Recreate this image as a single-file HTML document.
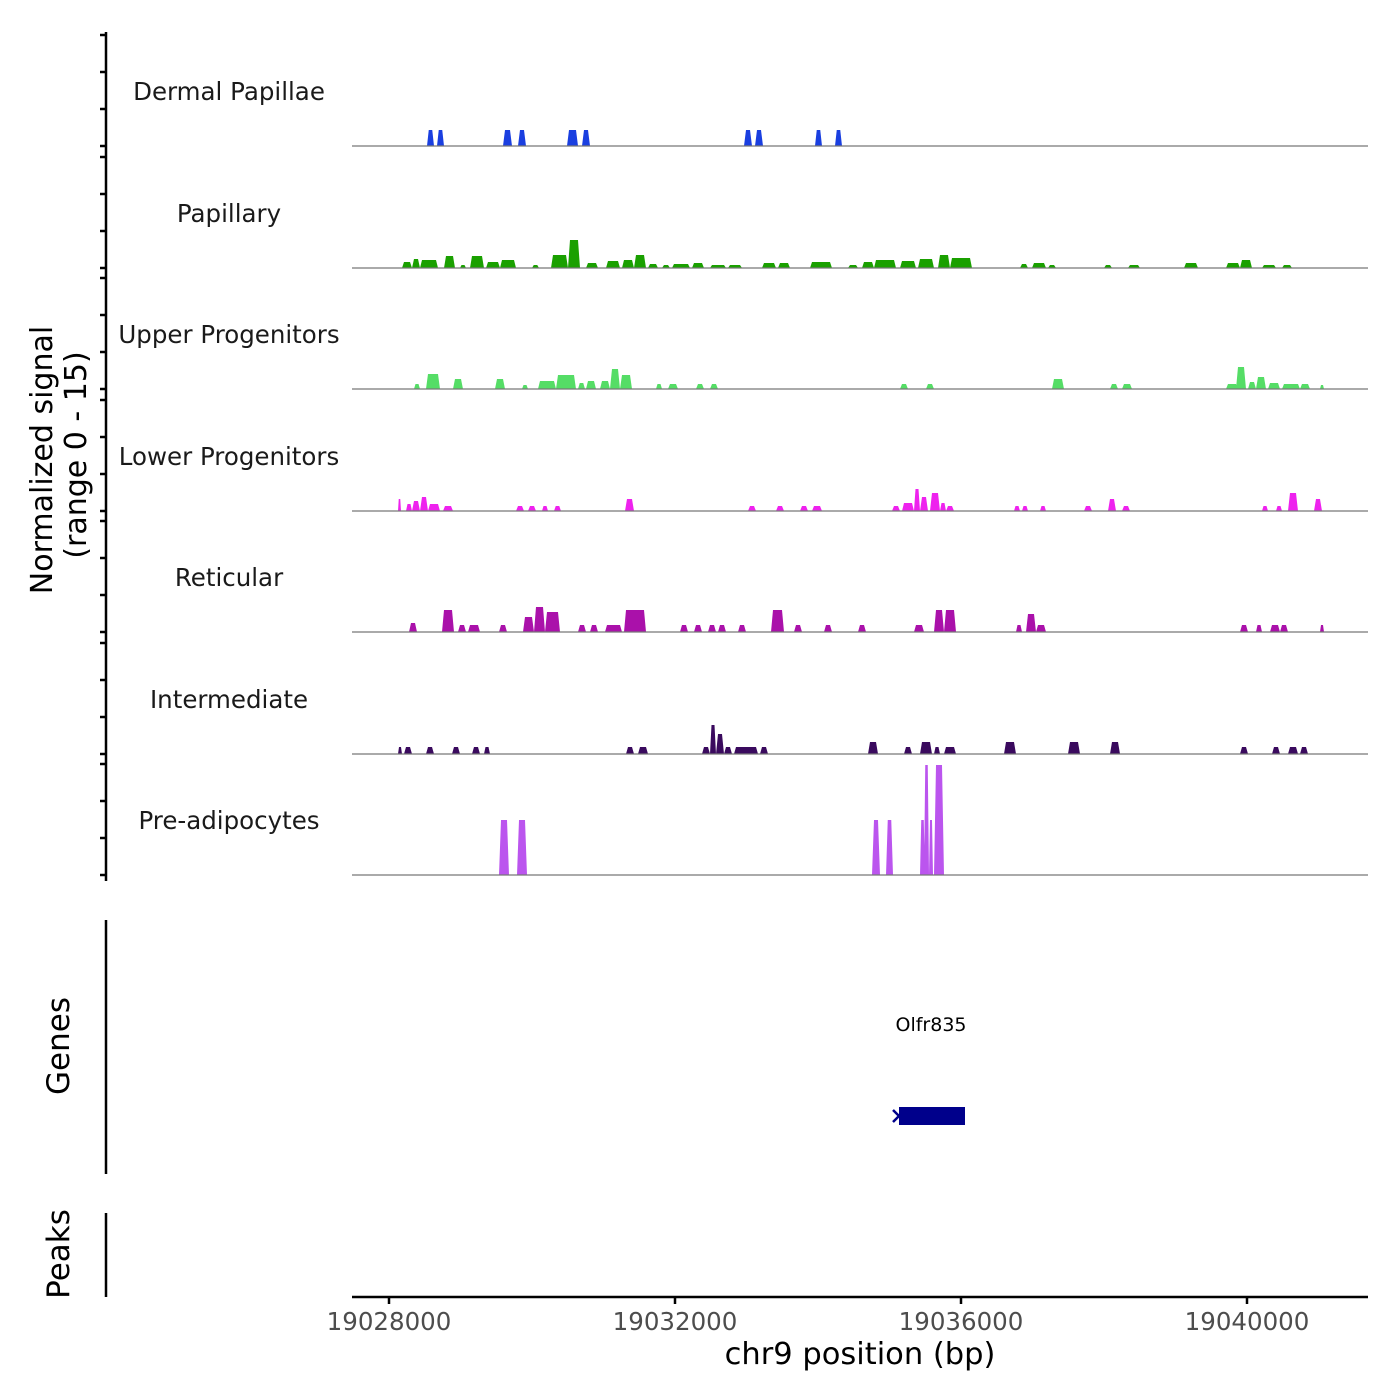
<!DOCTYPE html>
<html><head><style>
body{margin:0;background:#fff;}
svg{display:block;font-family:"DejaVu Sans","Liberation Sans",sans-serif;}
</style></head><body>
<svg id="s" width="1400" height="1400" viewBox="0 0 1400 1400" xmlns="http://www.w3.org/2000/svg">
<rect width="1400" height="1400" fill="#fff"/>
<g id="tracks"></g>
<g id="ticks" stroke="#000" stroke-width="2.5"></g>
<line x1="106" y1="32" x2="106" y2="881" stroke="#000" stroke-width="2.5"/>
<line x1="106" y1="920" x2="106" y2="1174" stroke="#000" stroke-width="2.5"/>
<line x1="106" y1="1213" x2="106" y2="1297" stroke="#000" stroke-width="2.5"/>
<text transform="translate(52,460) rotate(-90)" text-anchor="middle" font-size="30">Normalized signal</text>
<text transform="translate(86,455) rotate(-90)" text-anchor="middle" font-size="30">(range 0 - 15)</text>
<text transform="translate(69,1046) rotate(-90)" text-anchor="middle" font-size="31">Genes</text>
<text transform="translate(69,1254) rotate(-90)" text-anchor="middle" font-size="31">Peaks</text>
<g font-size="24.5" fill="#1a1a1a" text-anchor="middle">
<text x="229" y="100">Dermal Papillae</text>
<text x="229" y="222">Papillary</text>
<text x="229" y="343">Upper Progenitors</text>
<text x="229" y="465">Lower Progenitors</text>
<text x="229" y="586">Reticular</text>
<text x="229" y="708">Intermediate</text>
<text x="229" y="829">Pre-adipocytes</text>
</g>
<text x="931" y="1031" font-size="19" text-anchor="middle">Olfr835</text>
<rect x="899" y="1107" width="66" height="18" fill="#00008b"/>
<path d="M893 1110 L899 1116 L893 1122" stroke="#00008b" stroke-width="2.5" fill="none"/>
<line x1="352" y1="1297" x2="1368" y2="1297" stroke="#000" stroke-width="2.5"/>
<g stroke="#000" stroke-width="2.5">
<line x1="389" y1="1297" x2="389" y2="1304"/><line x1="675" y1="1297" x2="675" y2="1304"/>
<line x1="961" y1="1297" x2="961" y2="1304"/><line x1="1247" y1="1297" x2="1247" y2="1304"/>
</g>
<g font-size="24.5" fill="#4d4d4d" text-anchor="middle">
<text x="389" y="1330">19028000</text><text x="675" y="1330">19032000</text>
<text x="961" y="1330">19036000</text><text x="1247" y="1330">19040000</text>
</g>
<text x="860" y="1364" font-size="30.5" text-anchor="middle">chr9 position (bp)</text>
</svg>
<script>
var ns="http://www.w3.org/2000/svg";
var T=document.getElementById("tracks"),K=document.getElementById("ticks");
var base=[146,268,389,511,632,754,875];
var cols=["#1a3fe0","#1aa000","#55dd66","#ee22ee","#aa11aa","#3a0a5e","#bb55ee"];
var data=[
[[427,434,16],[437,444,16],[503,512,16],[518,526,16],[567,578,16],[582,590,16],[744,752,16],[755,763,16],[815,822,16],[835,842,16]],
[[402,412,6],[412,420,9],[420,438,8],[444,455,12],[460,466,3],[470,484,12],[486,500,6],[500,516,8],[532,539,3],[551,568,13],[568,580,28],[586,598,5],[606,620,7],[622,634,8],[634,646,13],[648,658,4],[662,670,3],[672,690,4],[692,704,5],[710,726,3],[728,742,3],[762,776,5],[778,790,5],[810,832,6],[848,858,3],[862,874,6],[874,896,8],[900,916,7],[918,934,9],[938,950,13],[950,972,10],[1020,1028,4],[1032,1046,5],[1048,1056,3],[1104,1112,3],[1128,1140,3],[1184,1198,5],[1226,1240,5],[1240,1252,8],[1262,1276,3],[1282,1292,3]],
[[414,420,5],[426,440,15],[453,463,10],[495,505,10],[522,528,4],[538,556,8],[556,576,14],[578,585,6],[586,596,8],[600,610,8],[610,620,20],[620,632,14],[656,662,5],[668,678,5],[696,704,5],[710,718,5],[900,908,5],[926,934,5],[1052,1064,10],[1110,1118,5],[1122,1132,5],[1226,1238,5],[1236,1246,22],[1248,1256,7],[1256,1266,12],[1268,1280,6],[1282,1300,5],[1300,1310,5],[1320,1324,4]],
[[398,401,12],[406,412,7],[412,420,10],[420,428,14],[428,440,7],[443,453,5],[516,524,5],[528,536,5],[542,548,5],[554,561,5],[625,634,12],[748,756,5],[776,784,5],[800,808,5],[812,822,5],[892,900,5],[902,914,8],[914,920,22],[920,928,14],[930,940,18],[940,946,8],[946,954,5],[1014,1020,5],[1022,1028,5],[1040,1046,5],[1084,1092,5],[1108,1116,12],[1122,1130,5],[1262,1268,5],[1276,1282,5],[1288,1298,18],[1314,1322,12]],
[[409,417,9],[442,454,22],[458,466,7],[468,480,7],[499,507,7],[523,534,15],[534,545,25],[545,560,20],[578,586,7],[590,598,7],[605,622,7],[624,646,22],[680,688,7],[694,702,7],[708,716,7],[718,726,7],[738,746,7],[771,784,22],[794,802,7],[824,832,7],[858,866,7],[914,924,7],[934,944,22],[944,956,22],[1016,1022,7],[1026,1036,18],[1036,1046,7],[1240,1248,7],[1256,1262,7],[1270,1280,7],[1280,1288,7],[1320,1324,7]],
[[398,402,7],[404,412,7],[426,434,7],[452,460,7],[472,480,7],[484,490,7],[626,634,7],[638,648,7],[702,710,7],[710,716,29],[716,724,20],[724,732,7],[734,758,7],[760,768,7],[868,878,12],[904,912,7],[920,932,12],[934,940,7],[944,956,7],[1004,1016,12],[1068,1080,12],[1110,1120,12],[1240,1248,7],[1272,1280,7],[1288,1298,7],[1300,1308,7]],
[[499,509,55],[517,527,55],[872,880,55],[886,893,55],[920,925,55],[924,929,110],[929,933,55],[934,944,110]]
];
for(var i=0;i<7;i++){
 var b=base[i],d="";
 data[i].forEach(function(p){var s=Math.min(2,(p[1]-p[0])/4);d+="M"+p[0]+" "+b+"L"+(p[0]+s)+" "+(b-p[2])+"L"+(p[1]-s)+" "+(b-p[2])+"L"+p[1]+" "+b+"Z";});
 var pa=document.createElementNS(ns,"path");pa.setAttribute("d",d);pa.setAttribute("fill",cols[i]);T.appendChild(pa);
 var l=document.createElementNS(ns,"line");l.setAttribute("x1",352);l.setAttribute("x2",1368);l.setAttribute("y1",b);l.setAttribute("y2",b);l.setAttribute("stroke","#777");l.setAttribute("stroke-width","1.2");T.appendChild(l);
 for(var k=0;k<4;k++){var y=b-k*37;var t=document.createElementNS(ns,"line");t.setAttribute("x1",100);t.setAttribute("x2",106);t.setAttribute("y1",y);t.setAttribute("y2",y);K.appendChild(t);}
}
</script>
</body></html>
